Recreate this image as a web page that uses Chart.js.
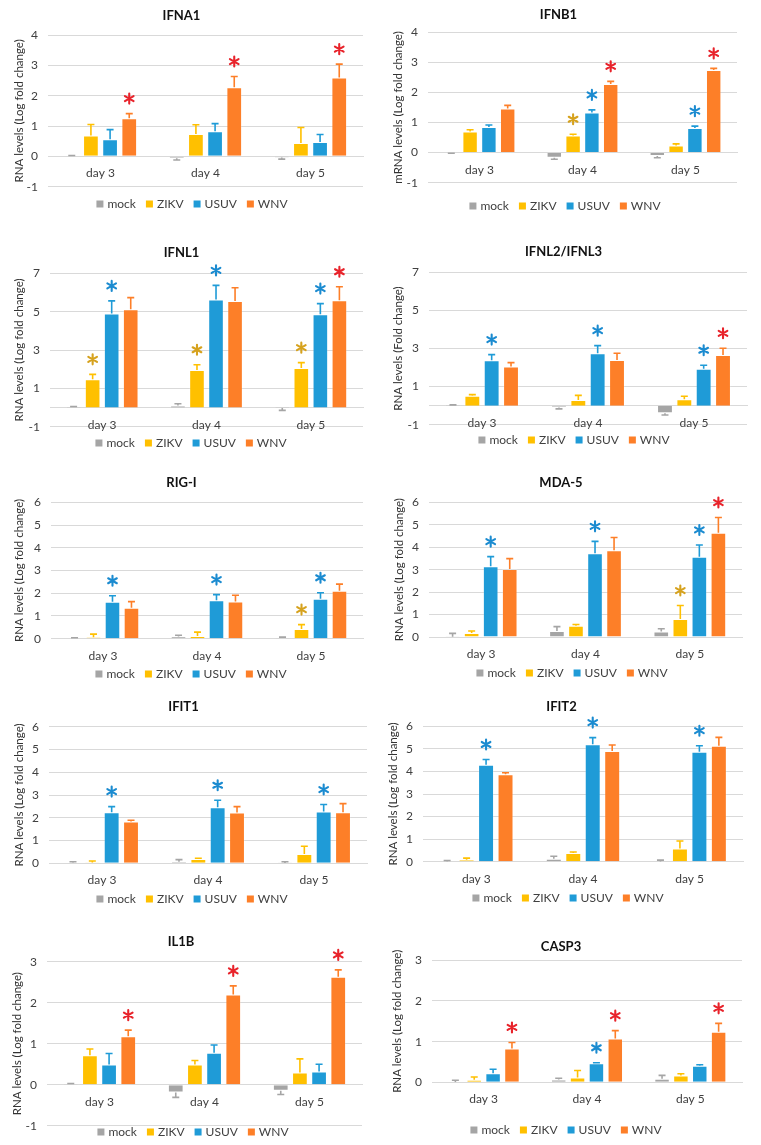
<!DOCTYPE html>
<html>
<head>
<meta charset="utf-8">
<script src="https://cdn.jsdelivr.net/npm/chart.js@4.4.1/dist/chart.umd.min.js"></script>
<style>
  html, body { margin: 0; padding: 0; background: #fff; }
  #page { position: relative; width: 761px; height: 1145px; overflow: hidden; background: #fff; }
  #page canvas { position: absolute; }
</style>
</head>
<body>
<div id="page"></div>
<script>
// categories / series
const days = ['day 3', 'day 4', 'day 5'];
const groups = ['mock', 'ZIKV', 'USUV', 'WNV'];

// values: one row per group (mock, ZIKV, USUV, WNV), one column per day
const IFNA1_mean = [[0.02, -0.06, -0.04], [0.69, 0.74, 0.44], [0.56, 0.83, 0.47], [1.26, 2.28, 2.60]];
const IFNA1_err  = [[0.01, 0.06, 0.05], [0.36, 0.30, 0.51], [0.32, 0.25, 0.25], [0.15, 0.35, 0.44]];
const IFNA1_sig  = [[0, 0, 0], [0, 0, 0], [0, 0, 0], [1, 1, 1]];
const IFNA1_axis = [-1, 4, 1];

const IFNB1_mean = [[-0.01, -0.17, -0.11], [0.70, 0.57, 0.24], [0.85, 1.33, 0.82], [1.47, 2.28, 2.75]];
const IFNB1_err  = [[0.01, 0.05, 0.06], [0.06, 0.04, 0.05], [0.07, 0.09, 0.06], [0.10, 0.09, 0.05]];
const IFNB1_sig  = [[0, 0, 0], [0, 1, 0], [0, 1, 1], [0, 1, 1]];
const IFNB1_axis = [-1, 4, 1];

const IFNL1_mean = [[0.03, 0.10, -0.03], [1.47, 1.96, 2.06], [4.91, 5.64, 4.86], [5.12, 5.56, 5.60]];
const IFNL1_err  = [[0.02, 0.10, 0.12], [0.26, 0.27, 0.28], [0.65, 0.73, 0.56], [0.61, 0.69, 0.70]];
const IFNL1_sig  = [[0, 0, 0], [1, 1, 1], [1, 1, 1], [0, 0, 1]];
const IFNL1_axis = [-1, 7, 2];

const IFNL23_mean = [[0.02, -0.10, -0.40], [0.52, 0.30, 0.33], [2.38, 2.75, 1.94], [2.05, 2.40, 2.66]];
const IFNL23_err  = [[0.02, 0.07, 0.09], [0.06, 0.24, 0.16], [0.30, 0.40, 0.18], [0.21, 0.35, 0.35]];
const IFNL23_sig  = [[0, 0, 0], [0, 0, 0], [1, 1, 1], [0, 0, 1]];
const IFNL23_axis = [-1, 7, 2];

const RIGI_mean = [[0.02, 0.10, 0.05], [0.06, 0.12, 0.43], [1.63, 1.69, 1.76], [1.36, 1.64, 2.11]];
const RIGI_err  = [[0.02, 0.05, 0.02], [0.14, 0.17, 0.19], [0.26, 0.25, 0.26], [0.27, 0.27, 0.29]];
const RIGI_sig  = [[0, 0, 0], [0, 0, 1], [1, 1, 1], [0, 0, 0]];
const RIGI_axis = [0, 6, 1];

const MDA5_mean = [[0.01, 0.27, 0.25], [0.18, 0.50, 0.80], [3.15, 3.73, 3.58], [3.03, 3.86, 4.64]];
const MDA5_err  = [[0.15, 0.19, 0.12], [0.09, 0.06, 0.60], [0.43, 0.53, 0.52], [0.46, 0.57, 0.68]];
const MDA5_sig  = [[0, 0, 0], [0, 0, 1], [1, 1, 1], [0, 0, 1]];
const MDA5_axis = [0, 6, 1];

const IFIT1_mean = [[0.02, 0.07, 0.01], [0.04, 0.19, 0.41], [2.24, 2.46, 2.28], [1.84, 2.23, 2.24]];
const IFIT1_err  = [[0.05, 0.09, 0.06], [0.06, 0.03, 0.34], [0.25, 0.31, 0.30], [0.05, 0.26, 0.38]];
const IFIT1_sig  = [[0, 0, 0], [0, 0, 0], [1, 1, 1], [0, 0, 0]];
const IFIT1_axis = [0, 6, 1];

const IFIT2_mean = [[0.01, 0.13, 0.01], [0.09, 0.38, 0.59], [4.30, 5.20, 4.87], [3.88, 4.90, 5.14]];
const IFIT2_err  = [[0.04, 0.11, 0.06], [0.07, 0.05, 0.33], [0.23, 0.30, 0.27], [0.06, 0.27, 0.37]];
const IFIT2_sig  = [[0, 0, 0], [0, 0, 0], [1, 1, 1], [0, 0, 0]];
const IFIT2_axis = [0, 6, 1];

const IL1B_mean = [[0.02, -0.19, -0.15], [0.72, 0.49, 0.30], [0.49, 0.78, 0.32], [1.18, 2.20, 2.63]];
const IL1B_err  = [[0.01, 0.12, 0.09], [0.15, 0.10, 0.33], [0.27, 0.19, 0.18], [0.15, 0.21, 0.17]];
const IL1B_sig  = [[0, 0, 0], [0, 0, 0], [0, 0, 0], [1, 1, 1]];
const IL1B_axis = [-1, 3, 1];

const CASP3_mean = [[0.01, 0.07, 0.09], [0.06, 0.12, 0.17], [0.22, 0.47, 0.41], [0.83, 1.08, 1.24]];
const CASP3_err  = [[0.04, 0.03, 0.08], [0.07, 0.17, 0.04], [0.10, 0.01, 0.02], [0.15, 0.19, 0.21]];
const CASP3_sig  = [[0, 0, 0], [0, 0, 0], [0, 1, 0], [1, 1, 1]];
const CASP3_axis = [0, 3, 1];

// styles
const barColors  = ['#a5a5a5', '#ffc000', '#1f9bd7', '#fd7f28'];
const starColors = ['#a5a5a5', '#d6a21e', '#1b8bd0', '#e8232b'];
const FONT = 'Lato, "Open Sans", sans-serif';
const rows = [[0, 220], [220, 450], [450, 680], [680, 905], [905, 1145]];

// layout of the ten panels (page px): plot = [left, top, right, bottom]
const panels = [
  { title: 'IFNA1', mean: IFNA1_mean, err: IFNA1_err, sig: IFNA1_sig, axis: IFNA1_axis, ytitle: 'RNA levels (Log fold change)',
    col: 0, row: 0, plot: [48, 35, 363, 186.7], tx: 190, ty: 16, lx: 192, ly: 204, yt: 19 },
  { title: 'IFNB1', mean: IFNB1_mean, err: IFNB1_err, sig: IFNB1_sig, axis: IFNB1_axis, ytitle: 'mRNA levels (Log fold change)',
    col: 380, row: 0, plot: [428, 32.3, 737, 182.7], tx: 562, ty: 15, lx: 565, ly: 206, yt: 398 },
  { title: 'IFNL1', mean: IFNL1_mean, err: IFNL1_err, sig: IFNL1_sig, axis: IFNL1_axis, ytitle: 'RNA levels (Log fold change)',
    col: 0, row: 1, plot: [50, 273.3, 363, 426.7], tx: 189, ty: 253, lx: 191, ly: 443, yt: 19 },
  { title: 'IFNL2/IFNL3', mean: IFNL23_mean, err: IFNL23_err, sig: IFNL23_sig, axis: IFNL23_axis, ytitle: 'RNA levels (Fold change)',
    col: 380, row: 1, plot: [429, 272.3, 747, 424.7], tx: 573, ty: 252, lx: 574, ly: 440, yt: 398 },
  { title: 'RIG-I', mean: RIGI_mean, err: RIGI_err, sig: RIGI_sig, axis: RIGI_axis, ytitle: 'RNA levels (Log fold change)',
    col: 0, row: 2, plot: [51, 502.3, 363, 638.7], tx: 188, ty: 483, lx: 191, ly: 674, yt: 19 },
  { title: 'MDA-5', mean: MDA5_mean, err: MDA5_err, sig: MDA5_sig, axis: MDA5_axis, ytitle: 'RNA levels (Log fold change)',
    col: 380, row: 2, plot: [429, 502.3, 742, 637], tx: 568, ty: 483, lx: 572, ly: 673, yt: 399 },
  { title: 'IFIT1', mean: IFIT1_mean, err: IFIT1_err, sig: IFIT1_sig, axis: IFIT1_axis, ytitle: 'RNA levels (Log fold change)',
    col: 0, row: 3, plot: [49, 726.7, 367, 863.3], tx: 189, ty: 707, lx: 192, ly: 899, yt: 19 },
  { title: 'IFIT2', mean: IFIT2_mean, err: IFIT2_err, sig: IFIT2_sig, axis: IFIT2_axis, ytitle: 'RNA levels (Log fold change)',
    col: 380, row: 3, plot: [423, 726.3, 743, 861.7], tx: 565, ty: 707, lx: 568, ly: 898, yt: 393 },
  { title: 'IL1B', mean: IL1B_mean, err: IL1B_err, sig: IL1B_sig, axis: IL1B_axis, ytitle: 'RNA levels (Log fold change)',
    col: 0, row: 4, plot: [47, 961.7, 362, 1125.7], tx: 188, ty: 942, lx: 193, ly: 1132, yt: 17 },
  { title: 'CASP3', mean: CASP3_mean, err: CASP3_err, sig: CASP3_sig, axis: CASP3_axis, ytitle: 'RNA levels (Log fold change)',
    col: 380, row: 4, plot: [432, 960.3, 742, 1082.3], tx: 563, ty: 947, lx: 566, ly: 1130, yt: 397 }
];

// error bars + significance asterisks
const errorBars = {
  id: 'errorBars',
  afterDatasetsDraw(chart) {
    const { ctx } = chart;
    const y = chart.scales.y;
    chart.data.datasets.forEach((ds, i) => {
      const meta = chart.getDatasetMeta(i);
      meta.data.forEach((bar, j) => {
        const v = ds.data[j], e = ds.errors[j];
        const end = y.getPixelForValue(v < 0 ? v - e : v + e);
        ctx.save();
        ctx.strokeStyle = ds.backgroundColor;
        ctx.lineWidth = 1.6;
        ctx.beginPath();
        ctx.moveTo(bar.x, bar.y);
        ctx.lineTo(bar.x, end);
        ctx.moveTo(bar.x - 3.5, end);
        ctx.lineTo(bar.x + 3.5, end);
        ctx.stroke();
        if (ds.stars[j]) {
          const cy = end - 15, r = 5;
          ctx.strokeStyle = ds.starColor;
          ctx.lineWidth = 2.1;
          ctx.lineCap = 'round';
          ctx.beginPath();
          for (let k = 0; k < 3; k++) {
            const a = Math.PI / 2 + k * Math.PI / 3;
            ctx.moveTo(bar.x + r * Math.cos(a), cy + r * Math.sin(a));
            ctx.lineTo(bar.x - r * Math.cos(a), cy - r * Math.sin(a));
          }
          ctx.stroke();
        }
        ctx.restore();
      });
    });
  }
};

// small legend drawn under each panel
const panelLegend = {
  id: 'panelLegend',
  afterDraw(chart, args, o) {
    const ctx = chart.ctx;
    ctx.save();
    ctx.font = '12px ' + FONT;
    ctx.textBaseline = 'middle';
    const box = 7, gap = 4, space = 10;
    const items = chart.data.datasets.map(d => ({ text: d.label, color: d.backgroundColor, w: ctx.measureText(d.label).width }));
    const total = items.reduce((s, it) => s + box + gap + it.w, 0) + space * (items.length - 1);
    let x = o.cx - total / 2;
    items.forEach(it => {
      ctx.fillStyle = it.color;
      ctx.fillRect(x, o.y - box / 2, box, box);
      ctx.fillStyle = '#404040';
      ctx.fillText(it.text, x + box + gap, o.y + 0.5);
      x += box + gap + it.w + space;
    });
    ctx.restore();
  }
};

const page = document.getElementById('page');

panels.forEach(p => {
  const [rowTop, rowBottom] = rows[p.row];
  const cw = Math.round(2 * (p.tx - p.col));
  const ch = rowBottom - rowTop;
  const canvas = document.createElement('canvas');
  canvas.width = cw; canvas.height = ch;
  canvas.style.left = p.col + 'px'; canvas.style.top = rowTop + 'px';
  canvas.style.width = cw + 'px'; canvas.style.height = ch + 'px';
  page.appendChild(canvas);

  const want = { left: p.plot[0] - p.col, top: p.plot[1] - rowTop, right: p.plot[2] - p.col, bottom: p.plot[3] - rowTop };
  const titleLH = 13 * 1.2;
  const titlePad = { top: p.ty - rowTop - titleLH / 2, bottom: p.plot[1] - p.ty - titleLH / 2 };
  const layoutPad = { left: 0, top: 0, right: cw - want.right, bottom: ch - want.bottom };

  const datasets = groups.map((g, i) => ({
    label: g,
    data: p.mean[i],
    errors: p.err[i],
    stars: p.sig[i],
    starColor: starColors[i],
    backgroundColor: barColors[i],
    borderColor: 'rgba(255,255,255,0.2)',
    borderWidth: 1,
    categoryPercentage: 0.73,
    barPercentage: 0.82
  }));

  const options = {
    responsive: false,
    animation: false,
    events: [],
    layout: { padding: layoutPad },
    plugins: {
      legend: { display: false },
      tooltip: { enabled: false },
      title: {
        display: true, text: p.title, color: '#111111',
        font: { family: FONT, size: 13, weight: 'bold' },
        padding: titlePad
      },
      panelLegend: { cx: p.lx - p.col, y: p.ly - rowTop }
    },
    scales: {
      x: {
        type: 'category',
        position: { y: 0 },
        offset: true,
        grid: { display: false, drawTicks: false },
        border: { display: true, color: '#d9d9d9', width: 1 },
        ticks: { color: '#404040', padding: 10, font: { family: FONT, size: 12 } }
      },
      y: {
        min: p.axis[0], max: p.axis[1],
        ticks: { stepSize: p.axis[2], color: '#404040', padding: 10, font: { family: FONT, size: 12 } },
        grid: { color: '#d9d9d9', lineWidth: 1, drawTicks: false },
        border: { display: false },
        title: {
          display: true, text: p.ytitle, color: '#333333',
          font: { family: FONT, size: 11.5 },
          padding: { top: p.yt - p.col - 6.9, bottom: 0 }
        },
        afterFit: s => { s.width = want.left; }
      }
    }
  };

  const chart = new Chart(canvas, {
    type: 'bar',
    data: { labels: days, datasets },
    options,
    plugins: [errorBars, panelLegend]
  });

  // nudge paddings so the plot area lands where the reference has it
  for (let k = 0; k < 3; k++) {
    const a = chart.chartArea;
    titlePad.bottom += want.top - a.top;
    layoutPad.bottom -= want.bottom - a.bottom;
    layoutPad.left += want.left - a.left;
    layoutPad.right -= want.right - a.right;
    chart.update();
  }
});
</script>
</body>
</html>
